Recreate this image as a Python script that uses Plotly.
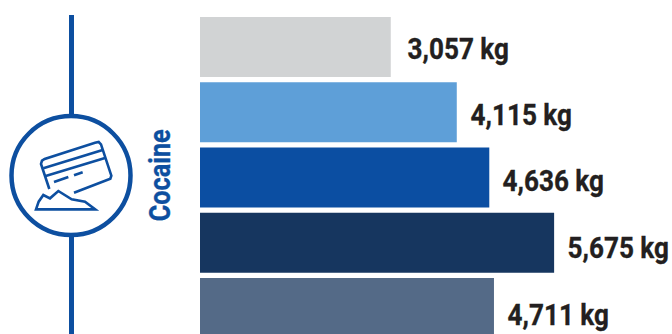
import plotly.graph_objects as go

# Seizure weights for one drug, one bar per period
categories = ["A", "B", "C", "D", "E"]
values = [3057, 4115, 4636, 5675, 4711]
labels = ["3,057 kg", "4,115 kg", "4,636 kg", "5,675 kg", "4,711 kg"]
colors = ["#d1d3d4", "#5e9fd8", "#0b4ea2", "#16365f", "#546a87"]
label_dx = [7, 4, 4, 4, 4]
label_dy = [1, 2, 3, 5, 6]
drug = "Cocaine"

W, H = 672, 334
BLUE = "#0d4fa0"
KG_PER_PX = 1 / 0.0624
LEFT_PX = 200
FONT = "Roboto"
CONDENSE = 0.87


def px(x, y):
    return x / W, 1 - y / H


def path(points, close=False):
    parts = []
    for i, (x, y) in enumerate(points):
        u, v = px(x, y)
        parts.append(f"{'M' if i == 0 else 'L'}{u:.5f},{v:.5f}")
    return " ".join(parts) + (" Z" if close else "")


def icon_pt(zx, zy):
    # icon outline is drafted on a 3x grid whose origin sits at (0, 90)
    return zx / 3, zy / 3 + 90


def stroke(points, width=2.6, fill=None, close=False):
    return dict(
        type="path", xref="paper", yref="paper", layer="above",
        path=path([icon_pt(*p) for p in points], close),
        line=dict(color=BLUE, width=width),
        fillcolor=fill or "rgba(0,0,0,0)",
    )


shapes = []
# timeline spine
for y0, y1 in [(15, 116), (235, 334)]:
    u0, v0 = px(71.5, y0)
    u1, v1 = px(71.5, y1)
    shapes.append(dict(type="line", xref="paper", yref="paper",
                       x0=u0, y0=v0, x1=u1, y1=v1,
                       line=dict(color=BLUE, width=5)))
# icon ring
u0, v0 = px(71 - 59.5, 175.6 - 59.5)
u1, v1 = px(71 + 59.5, 175.6 + 59.5)
shapes.append(dict(type="circle", xref="paper", yref="paper",
                   x0=u0, y0=v0, x1=u1, y1=v1,
                   fillcolor="white", line=dict(color=BLUE, width=4.5)))
# bank card
shapes.append(stroke([(148, 297), (123, 222), (126, 212), (134, 207), (285, 158),
                      (296, 156), (303, 163), (334, 257), (331, 266), (222, 308)]))
shapes.append(stroke([(130, 235), (308, 180)]))
shapes.append(stroke([(137, 258), (315, 204)]))
shapes.append(stroke([(162, 276), (205, 261)]))
shapes.append(stroke([(222, 256), (248, 247)]))
# powder heap
shapes.append(stroke([(108, 358), (116, 335), (130, 315), (150, 325), (175, 303),
                      (215, 328), (255, 335), (286, 358)], close=True))

fig = go.Figure(go.Bar(
    x=values,
    y=categories,
    orientation="h",
    marker=dict(color=colors, line=dict(width=0)),
    width=60 / 65.25,
    hoverinfo="skip",
))

annotations = [
    dict(x=v, y=c, text=t, xref="x", yref="y", xanchor="left", yanchor="middle",
         xshift=dx, yshift=-dy, showarrow=False,
         font=dict(family=FONT, size=30, color="#231f20", weight=700))
    for v, c, t, dx, dy in zip(values, categories, labels, label_dx, label_dy)
]
annotations.append(dict(
    x=160 / W, y=1 - 175 / H, xref="paper", yref="paper", text=drug,
    textangle=-90, showarrow=False, xanchor="center", yanchor="middle",
    font=dict(family=FONT, size=29, color=BLUE, weight=700),
))

fig.update_layout(
    width=W, height=H,
    margin=dict(l=0, r=0, t=0, b=0),
    paper_bgcolor="white", plot_bgcolor="white",
    showlegend=False,
    shapes=shapes,
    annotations=annotations,
    xaxis=dict(visible=False, range=[-LEFT_PX * KG_PER_PX, (W - LEFT_PX) * KG_PER_PX]),
    yaxis=dict(visible=False, type="category", categoryorder="array",
               categoryarray=categories,
               range=[(H - 47) / 65.25, -47 / 65.25]),
)

# Roboto has no condensed cut installed, so the annotation text is scaled
# horizontally about its anchor, and its background box is narrowed with it
condense_text = f"""
var plot = document.getElementById('{{plot_id}}');
plot.querySelectorAll('.annotation').forEach(function (a) {{
  var t = a.querySelector('.annotation-text');
  var r = a.querySelector('rect.bg');
  var cx = parseFloat(t.getAttribute('x')) || 0;
  var base = t.getAttribute('transform') || '';
  t.setAttribute('transform', base + ' translate(' + cx + ',0) scale({CONDENSE},1) translate(' + (-cx) + ',0)');
  t.style.stroke = t.style.fill;
  t.style.strokeWidth = '0.35px';
  if (r) {{
    var w = parseFloat(r.getAttribute('width'));
    var x = parseFloat(r.getAttribute('x')) || 0;
    r.setAttribute('x', x + w * (1 - {CONDENSE}) / 2);
    r.setAttribute('width', w * {CONDENSE});
  }}
}});
"""
fig.write_html("out.html", config=dict(displayModeBar=False), post_script=condense_text)
